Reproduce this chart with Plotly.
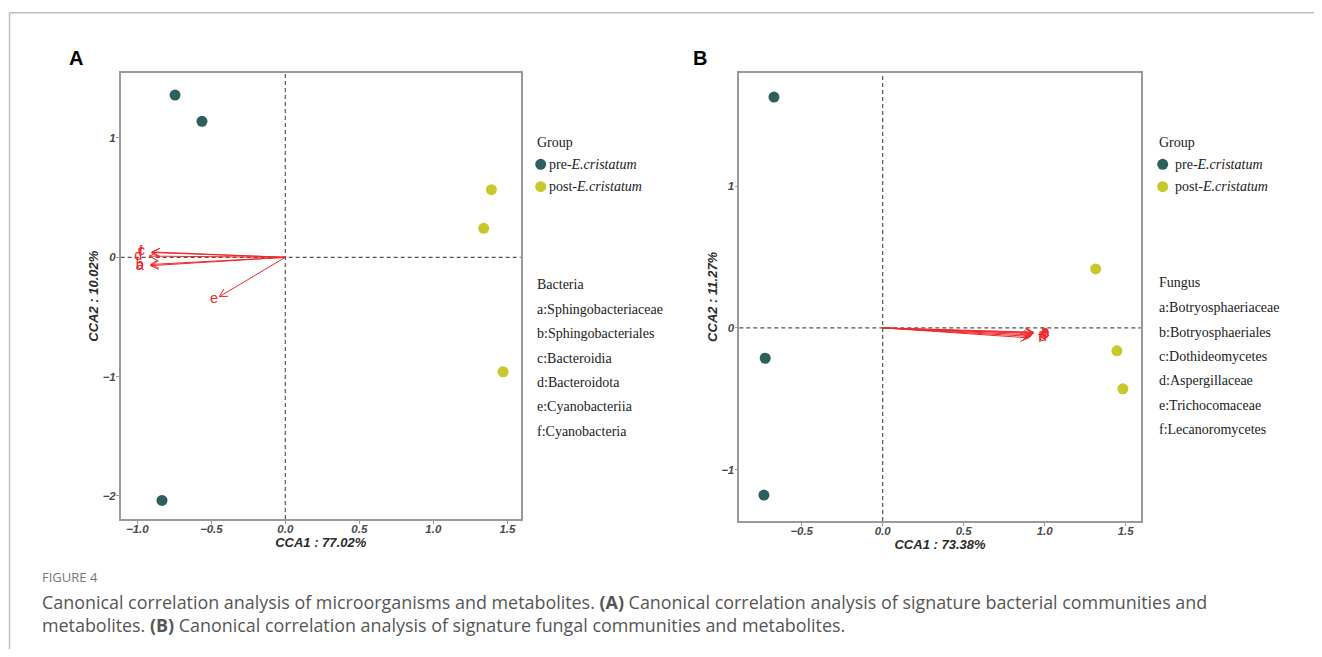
import math
import plotly.graph_objects as go

# figure sits inside the page's default 8px body margin
OFF = 8
W, H = 1306, 641


def px(x):
    return (x - OFF) / W


def py(y):
    return 1 - (y - OFF) / H


# ---------------- data ----------------
# Panel A (bacteria)
a_pre_x = [-0.745, -0.563, -0.833]
a_pre_y = [1.36, 1.14, -2.037]
a_post_x = [1.392, 1.34, 1.471]
a_post_y = [0.567, 0.243, -0.959]
a_arrow_labels = ["a", "b", "c", "d", "e", "f"]
a_arrow_x = [-0.91, -0.91, -0.90, -0.92, -0.446, -0.905]
a_arrow_y = [-0.07, -0.06, 0.045, 0.01, -0.33, 0.04]
a_names = ["a:Sphingobacteriaceae", "b:Sphingobacteriales", "c:Bacteroidia",
           "d:Bacteroidota", "e:Cyanobacteriia", "f:Cyanobacteria"]

# Panel B (fungi)
b_pre_x = [-0.671, -0.725, -0.733]
b_pre_y = [1.628, -0.214, -1.179]
b_post_x = [1.315, 1.446, 1.483]
b_post_y = [0.416, -0.162, -0.43]
b_arrow_labels = ["a", "b", "c", "d", "e", "f"]
b_arrow_x = [0.93, 0.93, 0.92, 0.915, 0.93, 0.90]
b_arrow_y = [-0.03, -0.04, -0.05, -0.06, -0.035, -0.07]
b_names = ["a:Botryosphaeriaceae", "b:Botryosphaeriales", "c:Dothideomycetes",
           "d:Aspergillaceae", "e:Trichocomaceae", "f:Lecanoromycetes"]

group_names = ["pre-<i>E.cristatum</i>", "post-<i>E.cristatum</i>"]

# ---------------- style ----------------
PRE_COL = "#2b605d"
POST_COL = "#c8c82c"
GROUP_COLS = [PRE_COL, POST_COL]
ARROW_COL = "#f0282a"
SERIF = "Liberation Serif, serif"
SANS = "Liberation Sans, Arial, sans-serif"

panels = {
    "A": dict(xpx=(120.7, 520.7), ypx=(73.3, 519.0), xr=[-1.112, 1.59], yr=[-2.193, 1.542],
              xt="CCA1 : 77.02%", yt="CCA2 : 10.02%",
              xtick=[-1.0, -0.5, 0.0, 0.5, 1.0, 1.5], ytick=[-2, -1, 0, 1]),
    "B": dict(xpx=(739.3, 1140.7), ypx=(72.7, 521.0), xr=[-0.885, 1.593], yr=[-1.362, 1.80],
              xt="CCA1 : 73.38%", yt="CCA2 : 11.27%",
              xtick=[-0.5, 0.0, 0.5, 1.0, 1.5], ytick=[-1, 0, 1]),
}

fig = go.Figure()


def arrow_traces(p, xs, ys, labels, xref, yref):
    sx = (p["xpx"][1] - p["xpx"][0]) / (p["xr"][1] - p["xr"][0])
    sy = (p["ypx"][1] - p["ypx"][0]) / (p["yr"][1] - p["yr"][0])
    lx, ly, hx, hy = [], [], [], []
    L = 9.0
    ang = math.radians(28)
    for ex, ey in zip(xs, ys):
        lx += [0, ex, None]
        ly += [0, ey, None]
        dx, dy = ex * sx, ey * sy
        n = math.hypot(dx, dy)
        ux, uy = dx / n, dy / n
        for s in (1, -1):
            rx = ux * math.cos(s * ang) - uy * math.sin(s * ang)
            ry = ux * math.sin(s * ang) + uy * math.cos(s * ang)
            hx += [ex - L * rx / sx, ex, None]
            hy += [ey - L * ry / sy, ey, None]
    fig.add_trace(go.Scatter(x=lx, y=ly, mode="lines", line=dict(color=ARROW_COL, width=1),
                             showlegend=False, hoverinfo="skip", xaxis=xref, yaxis=yref))
    fig.add_trace(go.Scatter(x=hx, y=hy, mode="lines", line=dict(color=ARROW_COL, width=1),
                             showlegend=False, hoverinfo="skip", xaxis=xref, yaxis=yref))
    fig.add_trace(go.Scatter(x=[v * 1.08 for v in xs], y=[v * 1.08 for v in ys], mode="text",
                             text=labels, textfont=dict(color=ARROW_COL, size=14.5, family=SANS),
                             showlegend=False, hoverinfo="skip", xaxis=xref, yaxis=yref))


arrow_traces(panels["A"], a_arrow_x, a_arrow_y, a_arrow_labels, "x", "y")
arrow_traces(panels["B"], b_arrow_x, b_arrow_y, b_arrow_labels, "x2", "y2")
for xs, ys, col, nm, xr_, yr_ in (
        (a_pre_x, a_pre_y, PRE_COL, group_names[0], "x", "y"),
        (a_post_x, a_post_y, POST_COL, group_names[1], "x", "y"),
        (b_pre_x, b_pre_y, PRE_COL, group_names[0], "x2", "y2"),
        (b_post_x, b_post_y, POST_COL, group_names[1], "x2", "y2")):
    fig.add_trace(go.Scatter(x=xs, y=ys, mode="markers", name=nm, showlegend=False,
                             marker=dict(color=col, size=11), xaxis=xr_, yaxis=yr_))

tickfont = dict(family=SANS, size=11.5, color="#4a4a4a", weight="bold", style="italic")
titlefont = dict(family=SANS, size=13, color="#2a2a2a", weight="bold", style="italic")


def axes(p):
    xd = [px(p["xpx"][0]), px(p["xpx"][1])]
    yd = [py(p["ypx"][1]), py(p["ypx"][0])]
    common = dict(showgrid=False, zeroline=False, showline=True, mirror=True,
                  linecolor="#9a9a9a", linewidth=1.5, ticks="outside", ticklen=3,
                  tickcolor="#9a9a9a", tickwidth=1, tickfont=tickfont)
    xa = dict(domain=xd, range=p["xr"], tickvals=p["xtick"], tickformat=".1f",
              ticklabelstandoff=-5,
              title=dict(text=p["xt"], font=titlefont, standoff=0), **common)
    ya = dict(domain=yd, range=p["yr"], tickvals=p["ytick"], tickformat="d",
              ticklabelstandoff=-2,
              title=dict(text=p["yt"], font=titlefont, standoff=1), **common)
    return xa, ya


xa, ya = axes(panels["A"])
xa2, ya2 = axes(panels["B"])
xa["anchor"], ya["anchor"] = "y", "x"
xa2["anchor"], ya2["anchor"] = "y2", "x2"

shapes = []
for xr_, yr_ in (("x", "y"), ("x2", "y2")):
    shapes.append(dict(type="line", xref=xr_, yref=f"{yr_} domain", x0=0, x1=0, y0=0, y1=1,
                       line=dict(color="#555555", width=1.2, dash="4px,3px"), layer="below"))
    shapes.append(dict(type="line", xref=f"{xr_} domain", yref=yr_, x0=0, x1=1, y0=0, y1=0,
                       line=dict(color="#555555", width=1.2, dash="4px,3px"), layer="below"))
# page frame lines
shapes.append(dict(type="line", xref="paper", yref="paper", x0=px(9.5), x1=1.0,
                   y0=py(12.7), y1=py(12.7), line=dict(color="#bdbdbd", width=1.5)))
shapes.append(dict(type="line", xref="paper", yref="paper", x0=px(9.5), x1=px(9.5),
                   y0=0, y1=py(12.7), line=dict(color="#bdbdbd", width=1.5)))

ann = []
for txt, x in (("A", 76), ("B", 699.5)):
    ann.append(dict(text=f"<b>{txt}</b>", x=px(x), y=py(58), xref="paper", yref="paper",
                    showarrow=False, xanchor="center", yanchor="middle",
                    font=dict(family=SANS, size=20, color="#000")))

LEG_FONT = dict(family=SERIF, size=14, color="#222")
# group legends (title, markers, labels)
for tx, mx, lx in ((534.7, 540.7, 546.5), (1156.7, 1162.7, 1172.5)):
    ann.append(dict(text="Group", x=px(tx), y=py(142.7), xref="paper", yref="paper",
                    showarrow=False, xanchor="left", yanchor="middle", font=LEG_FONT))
    for i, (nm, col) in enumerate(zip(group_names, GROUP_COLS)):
        yy = 164.3 + i * 22.4
        shapes.append(dict(type="circle", xref="paper", yref="paper", xsizemode="pixel",
                           ysizemode="pixel", xanchor=px(mx), yanchor=py(yy),
                           x0=-5.5, x1=5.5, y0=-5.5, y1=5.5,
                           fillcolor=col, line=dict(width=0)))
        ann.append(dict(text=nm, x=px(lx), y=py(yy), xref="paper", yref="paper",
                        showarrow=False, xanchor="left", yanchor="middle", font=LEG_FONT))

# taxon lists
for title, names, x0, y0 in (("Bacteria", a_names, 534.7, 284.5), ("Fungus", b_names, 1156.7, 282.7)):
    ann.append(dict(text=title, x=px(x0), y=py(y0), xref="paper", yref="paper",
                    showarrow=False, xanchor="left", yanchor="middle", font=LEG_FONT))
    for i, nm in enumerate(names):
        yy = y0 + 25.0 + i * 24.35
        ann.append(dict(text=nm, x=px(x0), y=py(yy), xref="paper", yref="paper",
                        showarrow=False, xanchor="left", yanchor="middle", font=LEG_FONT))

# caption
CAP = "Open Sans, sans-serif"
ann.append(dict(text="FIGURE 4", x=px(40), y=py(577), xref="paper", yref="paper",
                showarrow=False, xanchor="left", yanchor="middle",
                font=dict(family=CAP, size=13, color="#777")))
cap_lines = [
    "Canonical correlation analysis of microorganisms and metabolites. <b>(A)</b> Canonical correlation analysis of signature bacterial communities and",
    "metabolites. <b>(B)</b> Canonical correlation analysis of signature fungal communities and metabolites.",
]
for i, ln in enumerate(cap_lines):
    ann.append(dict(text=ln, x=px(40), y=py(602 + 23 * i), xref="paper", yref="paper",
                    showarrow=False, xanchor="left", yanchor="middle",
                    font=dict(family=CAP, size=17.9, color="#555")))

fig.update_layout(
    width=W, height=H, margin=dict(l=0, r=0, t=0, b=0),
    paper_bgcolor="white", plot_bgcolor="white", showlegend=False,
    xaxis=xa, yaxis=ya, xaxis2=xa2, yaxis2=ya2,
    shapes=shapes, annotations=ann,
)

fig.write_html("out.html")
